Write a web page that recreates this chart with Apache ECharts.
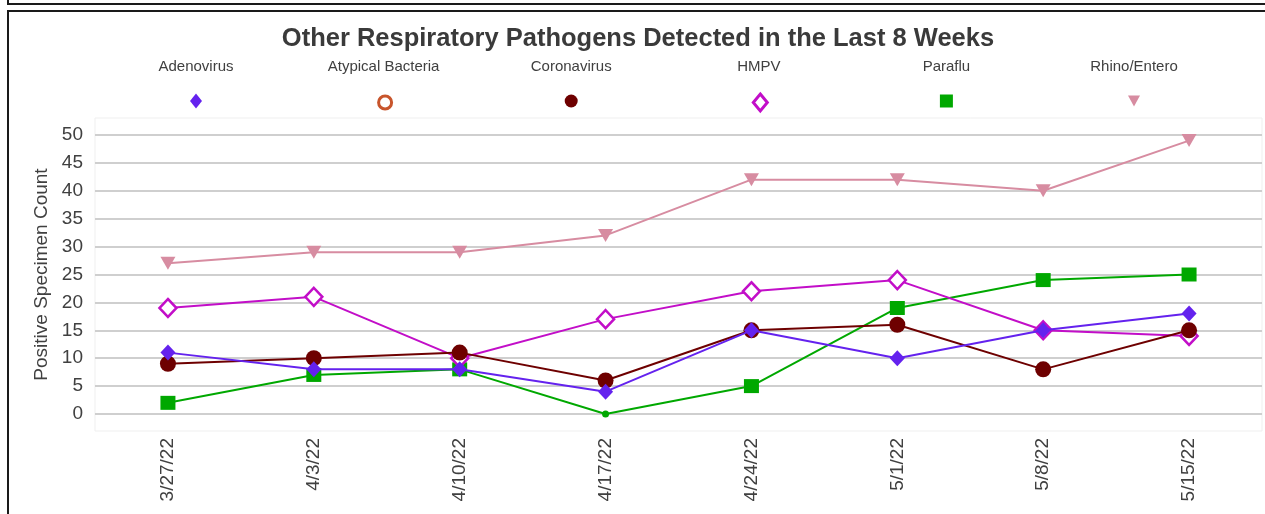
<!DOCTYPE html>
<html>
<head>
<meta charset="utf-8">
<title>Other Respiratory Pathogens Detected in the Last 8 Weeks</title>
<script src="https://cdn.jsdelivr.net/npm/echarts@6/dist/echarts.min.js"></script>
<style>
  html, body { margin: 0; padding: 0; background: #fff; }
  #chart { width: 1265px; height: 514px; }
</style>
</head>
<body>
<div id="chart"></div>
<script>
// week starting dates (x axis)
const weeks = ['3/27/22', '4/3/22', '4/10/22', '4/17/22', '4/24/22', '5/1/22', '5/8/22', '5/15/22'];

// positive specimen counts per week
const adenovirus = [11, 8, 8, 4, 15, 10, 15, 18];
const atypicalBacteria = [null, null, null, null, null, null, null, null];
const coronavirus = [9, 10, 11, 6, 15, 16, 8, 15];
const hmpv = [19, 21, 10, 17, 22, 24, 15, 14];
const paraflu = [2, 7, 8, 0, 5, 19, 24, 25];
const rhinoEntero = [27, 29, 29, 32, 42, 42, 40, 49];

// y axis ticks
const yMin = 0;
const yMax = 50;
const yStep = 5;

const FONT = '"Liberation Sans", Arial, sans-serif';
const TEXT = '#404040';
const DOWN_TRIANGLE = 'path://M0,0 L10,0 L5,9 Z';

const pathogens = [
  { name: 'Adenovirus', data: adenovirus, color: '#6422ee',
    symbol: 'diamond', size: [15, 16], hollow: false, legendSize: [12, 15] },
  { name: 'Atypical Bacteria', data: atypicalBacteria, color: '#c8552c',
    symbol: 'circle', size: 14, hollow: true, legendSize: [13, 13] },
  { name: 'Coronavirus', data: coronavirus, color: '#6e0000',
    symbol: 'circle', size: 16, hollow: false, legendSize: [13, 14] },
  { name: 'HMPV', data: hmpv, color: '#c20ec8',
    symbol: 'diamond', size: [17, 18], hollow: true, legendSize: [14, 17] },
  { name: 'Paraflu', data: paraflu, color: '#00a800',
    symbol: 'rect', size: [15, 14], hollow: false, legendSize: [13, 13] },
  { name: 'Rhino/Entero', data: rhinoEntero, color: '#d78ca1',
    symbol: DOWN_TRIANGLE, size: [15, 13], hollow: false, legendSize: [12, 12] }
];

// legend row layout (names above, markers below)
const legendX0 = 196;
const legendStep = 187.6;
const legendIconY = 101;
const legendNameTop = 59;

const chart = echarts.init(document.getElementById('chart'));

const series = pathogens.map((p, i) => ({
  name: p.name,
  type: 'line',
  data: p.data.map((v) =>
    // the zero point on the Paraflu line is drawn as a small dot
    v === 0 ? { value: v, symbol: 'circle', symbolSize: 7 } : v
  ),
  z: 10 - i,
  symbol: p.symbol,
  symbolSize: p.size,
  symbolKeepAspect: false,
  showAllSymbol: true,
  connectNulls: false,
  animation: false,
  lineStyle: { color: p.color, width: 2 },
  itemStyle: p.hollow
    ? { color: '#fff', borderColor: p.color, borderWidth: 2.5 }
    : { color: p.color, borderWidth: 0 },
  emphasis: { disabled: true }
}));

const legends = pathogens.map((p, i) => ({
  data: [{ name: p.name, icon: p.symbol }],
  left: legendX0 + i * legendStep - p.legendSize[0] / 2,
  top: legendIconY - p.legendSize[1] / 2,
  padding: 0,
  itemWidth: p.legendSize[0],
  itemHeight: p.legendSize[1],
  itemGap: 0,
  formatter: () => '',
  selectedMode: true,
  itemStyle: p.hollow
    ? { color: '#fff', borderColor: p.color, borderWidth: 3 }
    : { color: p.color, borderWidth: 0 }
}));

const titles = [{
  text: 'Other Respiratory Pathogens Detected in the Last 8 Weeks',
  left: 638,
  top: 26,
  textAlign: 'center',
  padding: 0,
  textStyle: { fontFamily: FONT, fontSize: 25.5, fontWeight: 'bold', color: '#3a3a3a' }
}].concat(pathogens.map((p, i) => ({
  text: p.name,
  left: legendX0 + i * legendStep,
  top: legendNameTop,
  textAlign: 'center',
  padding: 0,
  textStyle: { fontFamily: FONT, fontSize: 15, fontWeight: 'normal', color: TEXT }
})));

const option = {
  backgroundColor: '#fff',
  animation: false,
  title: titles,
  legend: legends,
  grid: [
    // value area
    { left: 95, right: 3, top: 135, bottom: 100, containLabel: false },
    // faint plot-area frame
    { left: 95, right: 3, top: 118, bottom: 83, show: true,
      backgroundColor: 'transparent', borderColor: '#efefef', borderWidth: 1 }
  ],
  xAxis: [{
    type: 'category',
    data: weeks,
    boundaryGap: true,
    axisLine: { show: false },
    axisTick: { show: false },
    axisLabel: { rotate: 90, margin: 24, fontFamily: FONT, fontSize: 19, color: TEXT }
  }, {
    type: 'category', gridIndex: 1, show: false, data: weeks
  }],
  yAxis: [{
    type: 'value',
    min: yMin,
    max: yMax,
    interval: yStep,
    name: 'Positive Specimen Count',
    nameLocation: 'middle',
    nameGap: 44,
    nameTextStyle: { fontFamily: FONT, fontSize: 19, color: TEXT },
    axisLine: { show: false },
    axisTick: { show: false },
    axisLabel: { margin: 12, fontFamily: FONT, fontSize: 19, color: TEXT },
    splitLine: { lineStyle: { color: '#cfcfcf', width: 2 } }
  }, {
    type: 'value', gridIndex: 1, show: false, splitLine: { show: false }
  }],
  graphic: [
    { type: 'polyline', silent: true, z: 100,
      shape: { points: [[8, 0], [8, 4], [1265, 4]] },
      style: { stroke: '#1a1a1a', lineWidth: 2, fill: null } },
    { type: 'polyline', silent: true, z: 100,
      shape: { points: [[8, 514], [8, 11], [1265, 11]] },
      style: { stroke: '#1a1a1a', lineWidth: 2, fill: null } }
  ],
  series: series
};

chart.setOption(option);
</script>
</body>
</html>
